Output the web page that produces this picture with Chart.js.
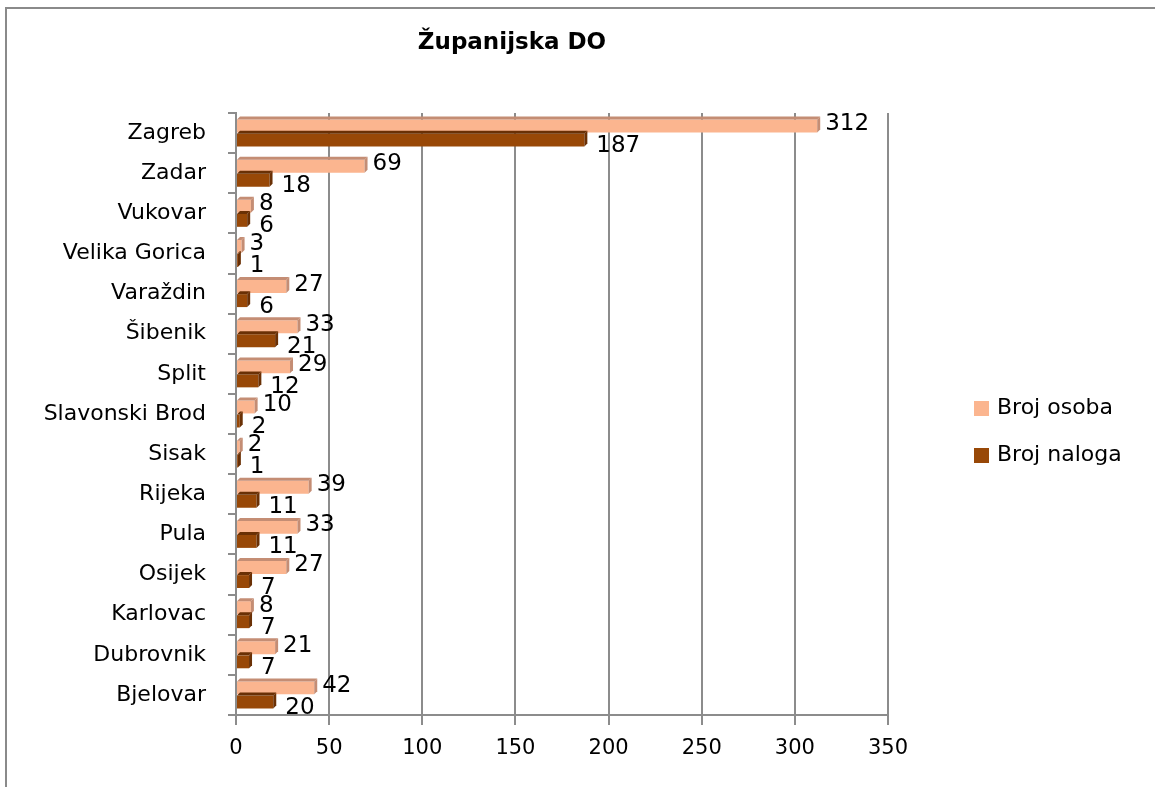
<!DOCTYPE html>
<html>
<head>
<meta charset="utf-8">
<script src="https://cdn.jsdelivr.net/npm/chart.js@4/dist/chart.umd.min.js"></script>
<style>
  body { margin: 0; background: #fff; }
  #wrap { width: 1155px; height: 787px; position: relative; }
</style>
</head>
<body>
<div id="wrap"><canvas id="myChart"></canvas></div>
<script>
const labels = ["Zagreb", "Zadar", "Vukovar", "Velika Gorica", "Varaždin", "Šibenik", "Split",
    "Slavonski Brod", "Sisak", "Rijeka", "Pula", "Osijek", "Karlovac", "Dubrovnik", "Bjelovar"];
const brojOsoba = [312, 69, 8, 3, 27, 33, 29, 10, 2, 39, 33, 27, 8, 21, 42];
const brojNaloga = [187, 18, 6, 1, 6, 21, 12, 2, 1, 11, 11, 7, 7, 7, 20];
const xTicks = [0, 50, 100, 150, 200, 250, 300, 350];

const fontFam = "'DejaVu Sans', sans-serif";
const sideColors = ["#c48d74", "#6a3005"];

// outer frame + title
const frame = {
    id: "frame",
    beforeDraw(chart) {
        const c = chart.ctx;
        c.save();
        c.strokeStyle = "#8a8a8a";
        c.lineWidth = 2;
        c.beginPath();
        c.moveTo(6, 787);
        c.lineTo(6, 8);
        c.lineTo(1155, 8);
        c.stroke();
        c.fillStyle = "#000";
        c.font = "bold 23px " + fontFam;
        c.textAlign = "center";
        c.textBaseline = "middle";
        c.fillText("Županijska DO", 512, 43);
        c.restore();
    },
};

// fake 3D faces on the bars and value labels
const bars3d = {
    id: "bars3d",
    afterDatasetsDraw(chart) {
        const c = chart.ctx;
        const d = 3;
        c.save();
        chart.data.datasets.forEach((ds, i) => {
            const meta = chart.getDatasetMeta(i);
            meta.data.forEach((bar, j) => {
                const top = bar.y - bar.height / 2;
                const bottom = bar.y + bar.height / 2;
                c.fillStyle = sideColors[i];
                c.beginPath();
                c.moveTo(bar.base, top);
                c.lineTo(bar.base + d, top - d);
                c.lineTo(bar.x + d, top - d);
                c.lineTo(bar.x, top);
                c.closePath();
                c.fill();
                c.beginPath();
                c.moveTo(bar.x, top);
                c.lineTo(bar.x + d, top - d);
                c.lineTo(bar.x + d, bottom - d);
                c.lineTo(bar.x, bottom);
                c.closePath();
                c.fill();

                c.fillStyle = "#000";
                c.font = "23px " + fontFam;
                c.textAlign = "left";
                c.textBaseline = "middle";
                const off = i === 0 ? 8 : 12;
                const dy = i === 0 ? -2 : 6;
                c.fillText(String(ds.data[j]), bar.x + off, bar.y + dy);
            });
        });
        c.restore();
    },
};

// legend on the right
const sideLegend = {
    id: "sideLegend",
    afterDraw(chart) {
        const c = chart.ctx;
        c.save();
        c.font = "22px " + fontFam;
        c.textBaseline = "middle";
        chart.data.datasets.forEach((ds, i) => {
            const y = 408 + i * 47;
            c.fillStyle = ds.backgroundColor;
            c.fillRect(974, y - 7, 15, 15);
            c.fillStyle = "#000";
            c.fillText(ds.label, 997, y);
        });
        c.restore();
    },
};

const data = {
    labels: labels,
    datasets: [
        {
            label: "Broj osoba",
            data: brojOsoba,
            backgroundColor: "#fbb58f",
            categoryPercentage: 0.7,
            barPercentage: 0.92,
        },
        {
            label: "Broj naloga",
            data: brojNaloga,
            backgroundColor: "#984807",
            categoryPercentage: 0.7,
            barPercentage: 0.92,
        },
    ],
};

const config = {
    type: "bar",
    data,
    plugins: [frame, bars3d, sideLegend],
    options: {
        indexAxis: "y",
        responsive: true,
        maintainAspectRatio: false,
        animation: false,
        layout: {
            padding: { top: 113, right: 267, bottom: 0, left: 0 },
        },
        plugins: {
            legend: { display: false },
            title: { display: false },
            tooltip: { enabled: false },
        },
        scales: {
            x: {
                min: 0,
                max: 350,
                afterBuildTicks(scale) {
                    scale.ticks = xTicks.map((v) => ({ value: v }));
                },
                afterFit(scale) {
                    scale.height = 72;
                },
                grid: {
                    color: "#8c8c8c",
                    lineWidth: 2,
                    tickLength: 10,
                },
                border: { color: "#8c8c8c", width: 2 },
                ticks: {
                    color: "#000",
                    padding: 11,
                    font: { size: 21, family: fontFam },
                },
            },
            y: {
                afterFit(scale) {
                    scale.width = 236;
                },
                grid: {
                    display: true,
                    drawOnChartArea: false,
                    color: "#8c8c8c",
                    lineWidth: 2,
                    tickLength: 8,
                    offset: true,
                },
                border: { color: "#8c8c8c", width: 2 },
                ticks: {
                    color: "#000",
                    padding: 22,
                    font: { size: 22, family: fontFam },
                },
            },
        },
    },
};

const ctx = document.getElementById("myChart").getContext("2d");
const chart = new Chart(ctx, config);
</script>
</body>
</html>
